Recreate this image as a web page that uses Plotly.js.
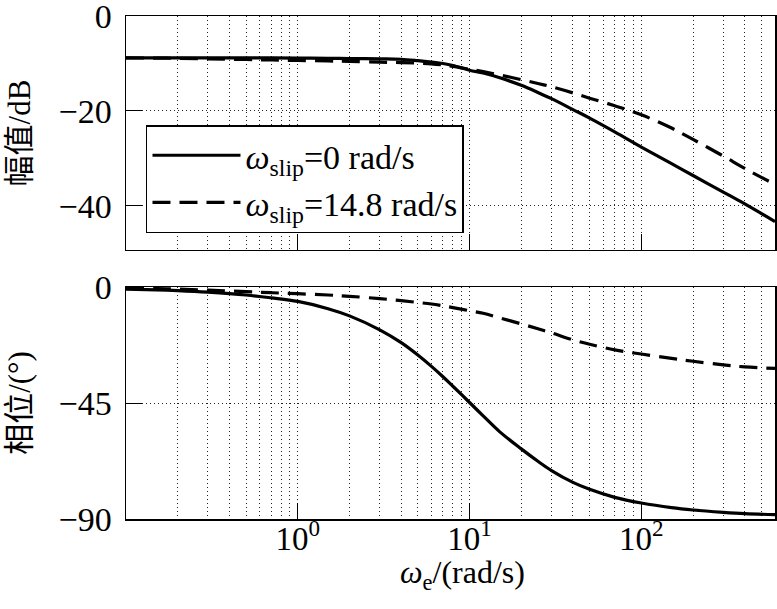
<!DOCTYPE html>
<html>
<head>
<meta charset="utf-8">
<script src="https://cdn.plot.ly/plotly-3.0.1.min.js"></script>
<style>
html,body{margin:0;padding:0;background:#fff;}
#chart{width:777px;height:609px;}
</style>
</head>
<body>
<div id="chart"></div>
<script>
// Frequencies (rad/s)
var freq = [0.1, 0.15, 0.2, 0.3, 0.5, 0.7, 1, 1.5, 2, 3, 4, 5, 6, 7, 8, 10, 12, 15, 20, 25, 30, 40, 50, 70, 100, 150, 200, 300, 400, 600];
// Magnitude (dB)
var magSlip0 = [-8.8, -8.8, -8.8, -8.8, -8.8, -8.8, -8.85, -8.9, -8.95, -9.0, -9.1, -9.4, -9.7, -10.0, -10.4, -11.4, -12.0, -13.0, -14.6, -16.1, -17.4, -19.7, -21.5, -24.4, -27.6, -31.1, -33.6, -37.1, -39.6, -43.3];
var magSlip148 = [-8.8, -8.85, -8.9, -9.0, -9.15, -9.25, -9.35, -9.45, -9.55, -9.7, -9.8, -9.9, -10.05, -10.3, -10.6, -11.2, -11.7, -12.4, -13.4, -14.2, -14.9, -16.2, -17.3, -18.9, -20.8, -23.6, -26.0, -29.5, -32.1, -35.5];
// Phase (deg)
var phSlip0 = [-0.8, -1.1, -1.4, -2.0, -3.1, -4.2, -5.6, -8.4, -11.2, -16.6, -21.6, -26.4, -30.8, -34.8, -38.5, -44.8, -50.0, -56.2, -62.8, -67.6, -71.2, -75.8, -78.5, -81.6, -83.8, -85.6, -86.5, -87.4, -87.9, -88.3];
var phSlip148 = [-0.4, -0.6, -0.8, -1.2, -1.8, -2.2, -2.6, -3.1, -3.6, -4.5, -5.3, -6.0, -6.6, -7.3, -8.0, -9.2, -10.2, -12.0, -14.3, -16.2, -17.8, -20.5, -22.2, -24.4, -26.0, -27.7, -28.8, -30.2, -31.0, -31.6];
// Labels
var seriesNames = ['<i>ω</i><sub>slip</sub>=0 rad/s', '<i>ω</i><sub>slip</sub>=14.8 rad/s'];
var xTickVals = [1, 10, 100];
var xTickText = ['10<sup>0</sup>', '10<sup>1</sup>', '10<sup>2</sup>'];
var magTicks = [-40, -20, 0];
var phTicks = [-90, -45, 0];
var xTitle = '<i>ω</i><sub>e</sub>/(rad/s)';

var minorVals = [];
[0.1, 1, 10, 100].forEach(function(d){ for (var k = 2; k <= 9; k++) { if (d*k < 600) minorVals.push(d*k); } });

var serif = 'Liberation Serif, Times New Roman, serif';
var cjk = 'Liberation Serif, Noto Sans CJK SC, serif';

var traces = [
  {x: freq, y: magSlip0, xaxis: 'x', yaxis: 'y', mode: 'lines', name: seriesNames[0], line: {color: '#000', width: 3.2, shape: 'spline'}},
  {x: freq, y: magSlip148, xaxis: 'x', yaxis: 'y', mode: 'lines', name: seriesNames[1], line: {color: '#000', width: 3.2, dash: '18px,9px', shape: 'spline'}},
  {x: freq, y: phSlip0, xaxis: 'x2', yaxis: 'y2', mode: 'lines', showlegend: false, line: {color: '#000', width: 3.2, shape: 'spline'}},
  {x: freq, y: phSlip148, xaxis: 'x2', yaxis: 'y2', mode: 'lines', showlegend: false, line: {color: '#000', width: 3.2, dash: '18px,9px', shape: 'spline'}}
];

function xAxis(showLabels, anchor) {
  return {
    type: 'log', range: [-1, Math.log10(600)], anchor: anchor, domain: [0, 1],
    tickmode: 'array', tickvals: xTickVals, ticktext: xTickText,
    showticklabels: showLabels,
    ticks: 'inside', ticklen: 16, tickwidth: 1, tickcolor: '#000',
    showgrid: true, gridcolor: '#222', gridwidth: 1, griddash: '1px,3px',
    minor: {tickmode: 'array', tickvals: minorVals, showgrid: true, gridcolor: '#222', gridwidth: 1, griddash: '1px,3px', ticks: ''},
    showline: true, mirror: true, linecolor: '#000', linewidth: 1.5,
    zeroline: false, ticklabeloverflow: 'allow', ticklabelstandoff: -10,
    tickfont: {family: serif, size: 33, color: '#000'}
  };
}
function yAxis(domain, range, tv, title, anchor) {
  return {
    domain: domain, range: range, anchor: anchor,
    tickmode: 'array', tickvals: tv,
    ticks: 'inside', ticklen: 16, tickwidth: 1, tickcolor: '#000',
    showgrid: true, gridcolor: '#222', gridwidth: 1, griddash: '1px,3px',
    showline: true, mirror: true, linecolor: '#000', linewidth: 1.5,
    zeroline: false, ticklabelstandoff: 6, ticklabeloverflow: 'allow',
    tickfont: {family: serif, size: 34, color: '#000'},
    title: {text: title, font: {family: cjk, size: 31, color: '#000'}, standoff: 18}
  };
}

var layout = {
  width: 777, height: 609,
  font: {family: serif, color: '#000'},
  margin: {l: 126, r: 2, t: 16, b: 90, pad: 0},
  paper_bgcolor: '#fff', plot_bgcolor: '#fff',
  showlegend: true,
  legend: {
    x: 0.0308, y: 0.783, xanchor: 'left', yanchor: 'top',
    bgcolor: '#fff', bordercolor: '#000', borderwidth: 1.5,
    font: {family: serif, size: 34, color: '#000'},
    itemwidth: 88, tracegroupgap: 0
  },
  xaxis: xAxis(false, 'y'),
  xaxis2: xAxis(true, 'y2'),
  yaxis: yAxis([0.5348, 1], [-49.3, 0.02], magTicks, '幅值/dB', 'x'),
  yaxis2: yAxis([0, 0.4612], [-90, 0], phTicks, '相位/(°)', 'x2'),
  annotations: [{
    text: xTitle, xref: 'paper', yref: 'paper', x: 0.519, y: -0.066,
    xanchor: 'center', yanchor: 'top', showarrow: false,
    font: {family: serif, size: 32, color: '#000'}
  }]
};

Plotly.newPlot('chart', traces, layout, {staticPlot: true, displayModeBar: false});
</script>
</body>
</html>
